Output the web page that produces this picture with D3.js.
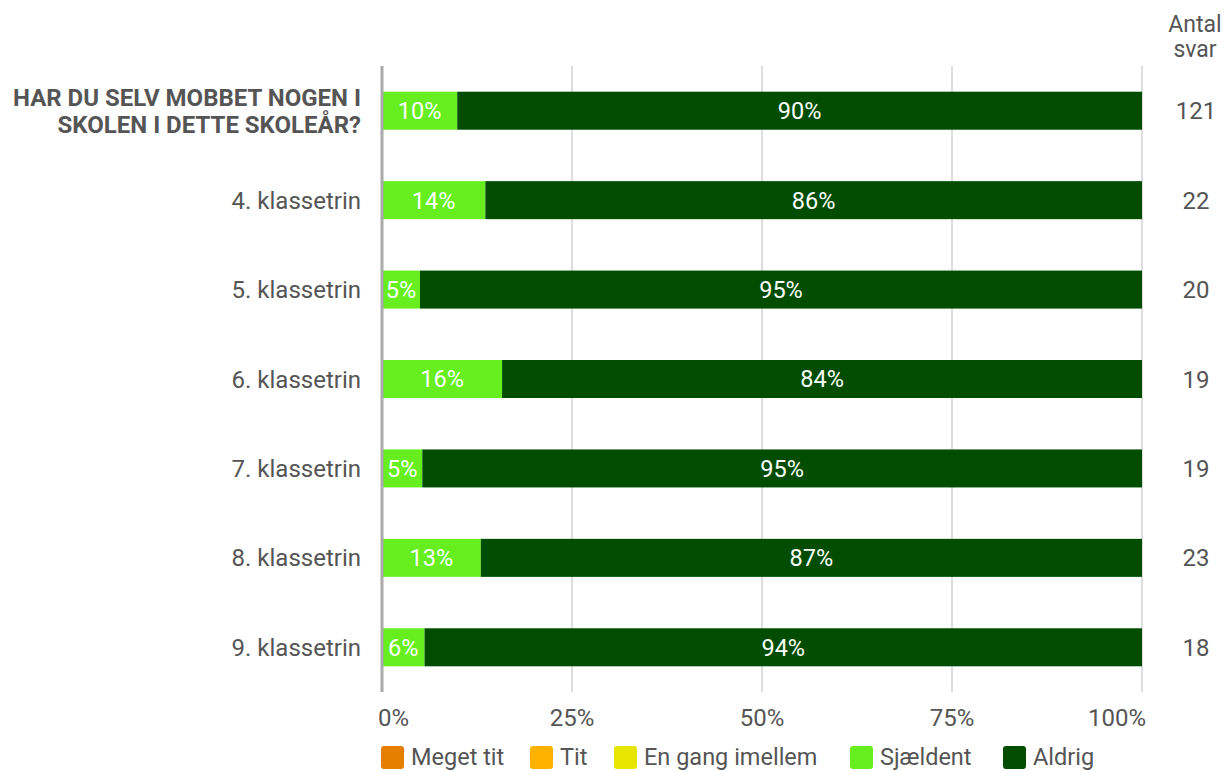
<!DOCTYPE html>
<html><head><meta charset="utf-8">
<script src="https://cdn.jsdelivr.net/npm/d3@7"></script>
<style>body{margin:0;background:#fff;}svg{display:block;font-family:Roboto,sans-serif;}</style>
</head><body><svg id="c" width="1226" height="771"></svg>
<script>
const categories = ["HAR DU SELV MOBBET NOGEN I SKOLEN I DETTE SKOLEÅR?","4. klassetrin","5. klassetrin","6. klassetrin","7. klassetrin","8. klassetrin","9. klassetrin"];
const seriesNames = ["Meget tit","Tit","En gang imellem","Sjældent","Aldrig"];
const seriesColors = ["#E67E00","#FFB300","#E6E600","#66EE1F","#004D00"];
const megetTit = [0,0,0,0,0,0,0];
const tit = [0,0,0,0,0,0,0];
const enGang = [0,0,0,0,0,0,0];
const sjaeldent = [9.9,13.6,5.0,15.8,5.3,13.0,5.6];
const aldrig = [90.1,86.4,95.0,84.2,94.7,87.0,94.4];
const counts = [121,22,20,19,19,23,18];
const tickValues = [0,25,50,75,100];
const tickLabels = ["0%","25%","50%","75%","100%"];

const svg = d3.select("#c");
const FS = 24;
const x = d3.scaleLinear().domain([0,100]).range([382,1142]);
const y = d3.scaleBand().domain(categories).range([66,692]).paddingInner(0.575).paddingOuter(0.2875);

// gridlines
svg.append("g").selectAll("line").data(tickValues.slice(1)).join("line")
  .attr("x1",d=>x(d)).attr("x2",d=>x(d)).attr("y1",66).attr("y2",692)
  .attr("stroke","#bbb").attr("stroke-width",1);

const seriesData = [megetTit,tit,enGang,sjaeldent,aldrig];
const rows = categories.map((c,i)=>{const o={cat:c}; seriesNames.forEach((s,j)=>o[s]=seriesData[j][i]); return o;});
const stacked = d3.stack().keys(seriesNames)(rows);

const g = svg.append("g");
stacked.forEach((layer,j)=>{
  g.append("g").selectAll("rect").data(layer).join("rect")
    .attr("x",d=>x(d[0])).attr("width",d=>x(d[1])-x(d[0]))
    .attr("y",d=>y(d.data.cat)).attr("height",y.bandwidth())
    .attr("fill",seriesColors[j]);
  g.append("g").selectAll("text").data(layer.filter(d=>d[1]-d[0]>0)).join("text")
    .attr("x",d=>(x(d[0])+x(d[1]))/2).attr("y",d=>y(d.data.cat)+y.bandwidth()/2)
    .attr("dy","0.36em").attr("text-anchor","middle").attr("fill","#fff")
    .attr("font-size",FS-0.5).text(d=>Math.round(d[1]-d[0])+"%");
});

// axis line
svg.append("line").attr("x1",x(0)).attr("x2",x(0)).attr("y1",66).attr("y2",692)
  .attr("stroke","#aaa").attr("stroke-width",3);

// category labels and counts
categories.forEach((c,i)=>{
  const cy = y(c)+y.bandwidth()/2;
  if(i===0){
    const t = svg.append("text").attr("text-anchor","end").attr("fill","#555")
      .attr("font-weight","bold").attr("font-size",FS);
    t.append("tspan").attr("x",361).attr("y",cy-13.5).attr("dy","0.36em").text("HAR DU SELV MOBBET NOGEN I");
    t.append("tspan").attr("x",361).attr("y",cy+13.5).attr("dy","0.36em").text("SKOLEN I DETTE SKOLEÅR?");
  } else {
    svg.append("text").attr("x",361).attr("y",cy).attr("dy","0.36em")
      .attr("text-anchor","end").attr("fill","#555").attr("font-size",FS).text(c);
  }
  svg.append("text").attr("x",1196).attr("y",cy).attr("dy","0.36em")
    .attr("text-anchor","middle").attr("fill","#555").attr("font-size",FS).text(counts[i]);
});

// header
const h = svg.append("text").attr("text-anchor","middle").attr("fill","#555").attr("font-size",FS-1);
h.append("tspan").attr("x",1195).attr("y",32).text("Antal");
h.append("tspan").attr("x",1195).attr("y",57).text("svar");

// x tick labels
const n = tickValues.length;
svg.append("g").selectAll("text").data(tickValues).join("text")
  .attr("x",(d,i)=> i===0 ? x(d)-4 : (i===n-1 ? x(d)+4 : x(d)))
  .attr("y",717).attr("dy","0.36em")
  .attr("text-anchor",(d,i)=> i===0 ? "start" : (i===n-1 ? "end" : "middle"))
  .attr("fill","#555").attr("font-size",FS).text((d,i)=>tickLabels[i]);

// legend
const legendX = [381,530,614,850,1003];
const lg = svg.append("g");
seriesNames.forEach((s,j)=>{
  lg.append("rect").attr("x",legendX[j]).attr("y",746).attr("width",23).attr("height",23)
    .attr("rx",3).attr("fill",seriesColors[j]);
  lg.append("text").attr("x",legendX[j]+30).attr("y",756.5).attr("dy","0.36em")
    .attr("fill","#555").attr("font-size",FS-0.5).text(s);
});
</script></body></html>
